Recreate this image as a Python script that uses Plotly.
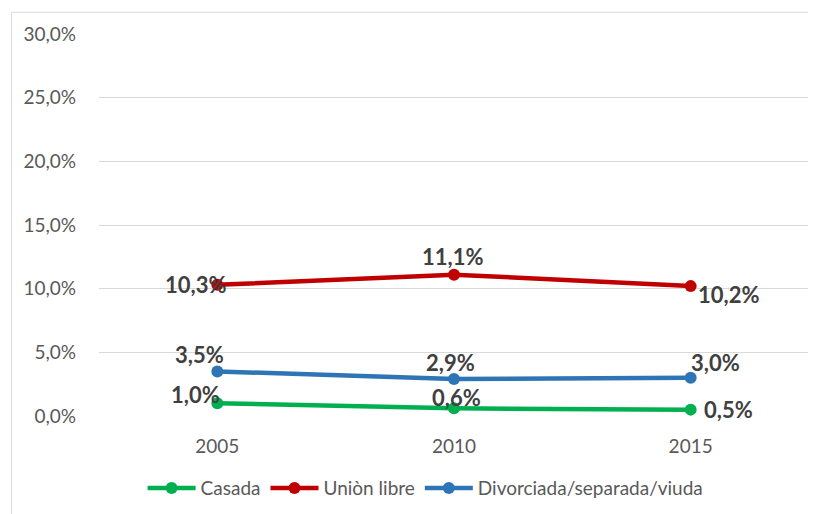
import plotly.graph_objects as go

years = ["2005", "2010", "2015"]
series_names = ["Casada", "Uniòn libre", "Divorciada/separada/viuda"]
casada = [1.0, 0.6, 0.5]
union_libre = [10.3, 11.1, 10.2]
divorciada = [3.5, 2.9, 3.0]
y_ticks = [0, 5, 10, 15, 20, 25, 30]

colors = ["#00B050", "#C00000", "#2E75B6"]
values = [casada, union_libre, divorciada]
# label offsets (px) per series per point
label_shift = [
    [(-22, 9), (2, 11), (38, 0)],
    [(-22, 0), (-2, 18), (38, -8)],
    [(-18, 17), (-4, 17), (25, 15)],
]

FONT = "Lato, Open Sans, sans-serif"

def fmt(v):
    return f"{v:.1f}".replace(".", ",") + "%"

fig = go.Figure()
for name, vals, col in zip(series_names, values, colors):
    fig.add_trace(go.Scatter(
        x=years, y=vals, name=name, mode="lines+markers",
        line=dict(color=col, width=4.5),
        marker=dict(color=col, size=12),
    ))

for vals, shifts in zip(values, label_shift):
    for i, (yv, (dx, dy)) in enumerate(zip(vals, shifts)):
        fig.add_annotation(
            x=i, y=yv, text="<b>" + fmt(yv) + "</b>", showarrow=False,
            xshift=dx, yshift=dy,
            font=dict(family=FONT, size=22, color="#404040"),
        )

# figure sits at (8,8) in page due to body margin
W, H = 808, 506
L, R, T, B = 90.5, 6.5, 26, 94
pw, ph = W - L - R, H - T - B
fig.add_shape(type="rect", xref="paper", yref="paper",
              x0=(3 - L) / pw, x1=(W + 20 - L) / pw,
              y0=-(H + 20 - T - ph) / ph, y1=(H - B - 4) / ph,
              line=dict(color="#D9D9D9", width=1), layer="below")

fig.update_layout(
    width=W, height=H,
    margin=dict(l=L, r=R, t=T, b=B),
    paper_bgcolor="white", plot_bgcolor="white",
    font=dict(family=FONT, color="#595959", size=19),
    showlegend=True,
    legend=dict(orientation="h", x=0.46, xanchor="center", y=-0.189, yanchor="middle",
                font=dict(family=FONT, size=19, color="#595959"),
                itemwidth=48, traceorder="normal"),
    xaxis=dict(type="category", range=[-0.5, 2.5], showgrid=False, zeroline=False,
               showline=False, ticks="", tickfont=dict(size=19, color="#595959"),
               ticklabelstandoff=17),
    yaxis=dict(range=[0, 30], tickvals=y_ticks,
               ticktext=[fmt(v) for v in y_ticks],
               showgrid=True, gridcolor="#D9D9D9", gridwidth=1.3,
               zeroline=False, showline=False, ticks="",
               tickfont=dict(size=19, color="#595959"), ticklabelstandoff=22),
)

fig.write_html("out.html")
